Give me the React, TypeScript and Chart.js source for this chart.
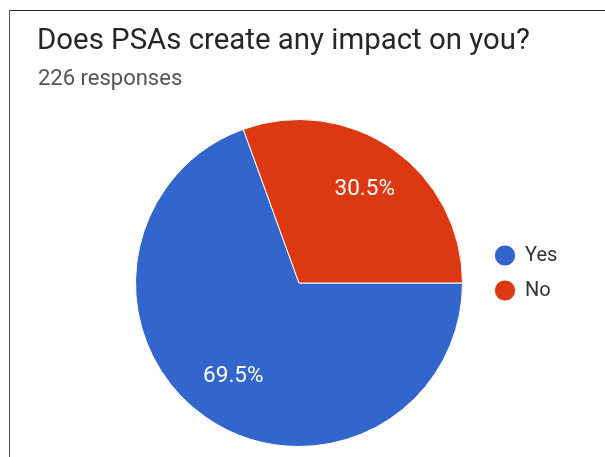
import { useEffect, useRef } from 'react';
import { Chart, registerables } from 'chart.js';

Chart.register(...registerables);

const titleText = 'Does PSAs create any impact on you?';
const subtitleText = '226 responses';
const categories = ['Yes', 'No'];
const responses = [157, 69];
const sliceColors = ['#3366cc', '#dc3912'];

const percentLabels = {
  id: 'percentLabels',
  afterDatasetsDraw(chart: any) {
    const ctx = chart.ctx;
    const meta = chart.getDatasetMeta(0);
    const data = chart.data.datasets[0].data as number[];
    const total = data.reduce((a: number, b: number) => a + b, 0);
    ctx.save();
    ctx.font = '22.5px Roboto';
    ctx.fillStyle = '#ffffff';
    ctx.textAlign = 'center';
    ctx.textBaseline = 'middle';
    meta.data.forEach((arc: any, i: number) => {
      const { x, y, startAngle, endAngle, outerRadius } = arc.getProps(
        ['x', 'y', 'startAngle', 'endAngle', 'outerRadius'],
        true
      );
      const mid = (startAngle + endAngle) / 2;
      const r = outerRadius * 0.7;
      ctx.fillText(((data[i] / total) * 100).toFixed(1) + '%', x + Math.cos(mid) * r, y + Math.sin(mid) * r);
    });
    ctx.restore();
  },
};

const legendNudge = {
  id: 'legendNudge',
  afterLayout(chart: any) {
    if (chart.legend) {
      chart.legend.top -= 10;
      chart.legend.bottom -= 10;
    }
  },
};

export default function App() {
  const ref = useRef<HTMLCanvasElement | null>(null);
  useEffect(() => {
    if (!ref.current) return;
    const chart = new Chart(ref.current, {
      type: 'pie',
      data: {
        labels: categories,
        datasets: [
          {
            data: responses,
            backgroundColor: sliceColors,
            borderColor: '#ffffff',
            borderWidth: 1,
          },
        ],
      },
      options: {
        responsive: false,
        animation: false,
        rotation: 90,
        layout: { padding: { top: 119, bottom: 10, left: 118, right: 45 } },
        plugins: {
          tooltip: { enabled: false },
          title: { display: false },
          legend: {
            position: 'right',
            align: 'center',
            maxWidth: 80,
            labels: {
              usePointStyle: true,
              pointStyle: 'circle',
              boxHeight: 15,
              padding: 15,
              color: '#333333',
              font: { family: 'Roboto', size: 20 },
            },
          },
        },
      },
      plugins: [percentLabels, legendNudge],
    });
    return () => chart.destroy();
  }, []);

  return (
    <div style={{ position: 'absolute', left: 0, top: 0, width: 605, height: 457, overflow: 'hidden', background: '#fff' }}>
      <div
        style={{
          position: 'absolute',
          left: 9,
          top: 10,
          width: 620,
          height: 470,
          borderTop: '1px solid #2a2a2a',
          borderLeft: '1px solid #555555',
        }}
      />
      <canvas ref={ref} width={605} height={457} style={{ position: 'absolute', left: 0, top: 0 }} />
      <div
        style={{
          position: 'absolute',
          left: 37,
          top: 25,
          font: '29.4px Roboto',
          lineHeight: '29px',
          color: '#262626',
          whiteSpace: 'nowrap',
        }}
      >
        {titleText}
      </div>
      <div
        style={{
          position: 'absolute',
          left: 38,
          top: 67,
          font: '22px Roboto',
          lineHeight: '22px',
          color: '#555555',
          whiteSpace: 'nowrap',
        }}
      >
        {subtitleText}
      </div>
    </div>
  );
}
